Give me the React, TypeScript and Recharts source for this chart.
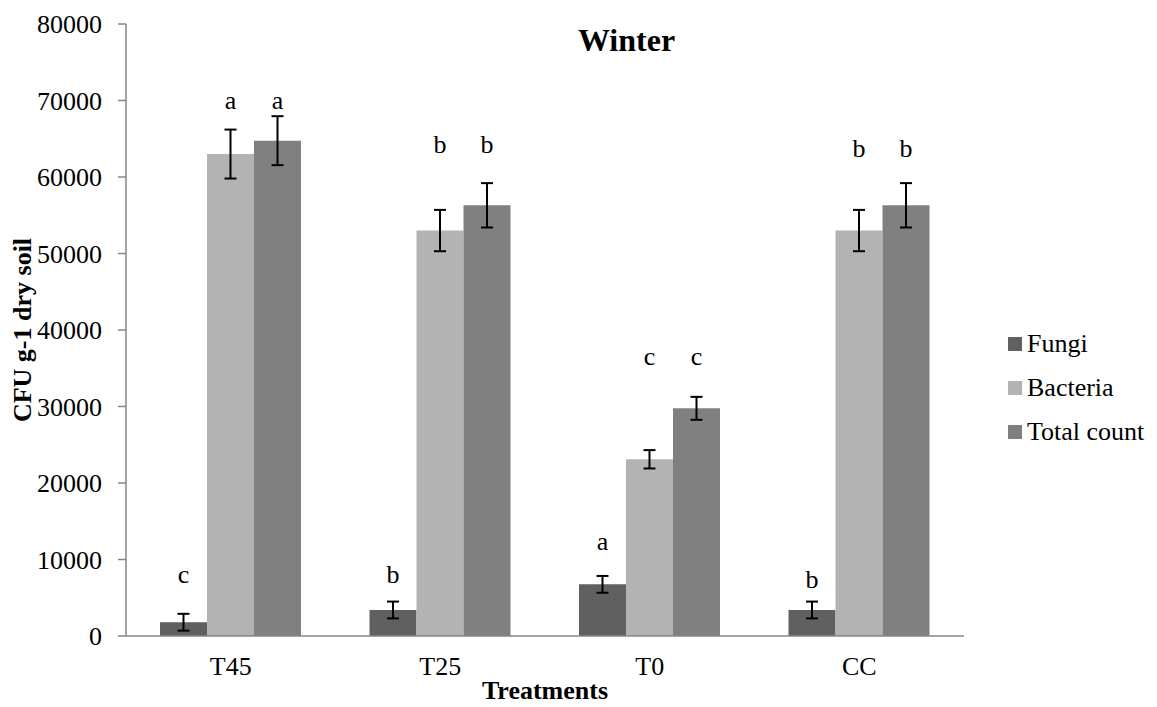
import React from "react";
import { BarChart, Bar, XAxis, YAxis, ErrorBar, LabelList } from "recharts";

const categories = ["T45", "T25", "T0", "CC"];
const seriesNames = ["Fungi", "Bacteria", "Total count"];
const seriesColors = ["#606060", "#b3b3b3", "#808080"];

const fungi = [1800, 3400, 6750, 3400];
const bacteria = [63000, 53000, 23100, 53000];
const totalCount = [64750, 56300, 29760, 56300];

const fungiErr = [1100, 1100, 1100, 1100];
const bacteriaErr = [3200, 2700, 1200, 2700];
const totalErr = [3200, 2900, 1500, 2900];

const fungiLetters = ["c", "b", "a", "b"];
const bacteriaLetters = ["a", "b", "c", "b"];
const totalLetters = ["a", "b", "c", "b"];

// value level (data units) where each significance letter sits
const fungiLetterLevel = [8000, 8000, 12400, 7450];
const bacteriaLetterLevel = [70000, 64200, 36600, 63700];
const totalLetterLevel = [70000, 64200, 36600, 63700];

const yTicks = [0, 10000, 20000, 30000, 40000, 50000, 60000, 70000, 80000];
const edgeTicks = [0, 1, 2, 3, 4];

const data = categories.map((c, i) => ({
  name: c,
  fungi: fungi[i],
  bacteria: bacteria[i],
  total: totalCount[i],
  fungiErr: fungiErr[i],
  bacteriaErr: bacteriaErr[i],
  totalErr: totalErr[i],
  fungiL: fungiLetters[i],
  bacteriaL: bacteriaLetters[i],
  totalL: totalLetters[i],
}));

const FONT = "Liberation Serif, DejaVu Serif, serif";
const AXIS_COLOR = "#868686";

const makeLetter = (levels: number[], values: number[]) => (props: any) => {
  const { x, y, width, height, value, index } = props;
  const v = values[index];
  const pxPerUnit = height / v;
  const baseY = y + height;
  const ly = baseY - levels[index] * pxPerUnit;
  return (
    <text
      x={x + width / 2}
      y={ly}
      textAnchor="middle"
      dominantBaseline="central"
      style={{ fontFamily: FONT, fontSize: 26 }}
      fill="#000"
    >
      {value}
    </text>
  );
};

export default function App() {
  return (
    <div style={{ position: "absolute", left: 0, top: 0, width: 1157, height: 707, background: "#fff", fontFamily: FONT }}>
      <BarChart
        width={1157}
        height={707}
        data={data}
        margin={{ top: 24, right: 193, bottom: 0, left: 36 }}
        barGap={0}
        style={{ fontFamily: FONT }}
      >
        <XAxis
          xAxisId="edges"
          type="number"
          domain={[0, 4]}
          ticks={edgeTicks}
          tick={false}
          axisLine={false}
          tickLine={{ stroke: AXIS_COLOR, strokeWidth: 1.5 }}
          tickSize={8}
          height={0}
          allowDataOverflow
        />
        <XAxis
          dataKey="name"
          height={71}
          tickSize={0}
          tickMargin={21}
          axisLine={{ stroke: AXIS_COLOR, strokeWidth: 1.5 }}
          tickLine={false}
          tick={{ fontSize: 26, fill: "#000", style: { fontFamily: FONT } }}
          label={(p: any) => {
            const vb = p.viewBox;
            return (
              <text
                x={vb.x + vb.width / 2}
                y={vb.y + 54}
                textAnchor="middle"
                dominantBaseline="central"
                style={{ fontFamily: FONT, fontSize: 26, fontWeight: "bold" }}
                fill="#000"
              >
                Treatments
              </text>
            );
          }}
        />
        <YAxis
          width={90}
          domain={[0, 80000]}
          ticks={yTicks}
          interval={0}
          tickSize={8}
          tickMargin={16}
          axisLine={{ stroke: AXIS_COLOR, strokeWidth: 1.5 }}
          tickLine={{ stroke: AXIS_COLOR, strokeWidth: 1.5 }}
          tick={{ fontSize: 26, fill: "#000", style: { fontFamily: FONT } }}
          label={(p: any) => {
            const vb = p.viewBox;
            const cy = vb.y + vb.height / 2;
            return (
              <text
                x={22}
                y={cy}
                transform={`rotate(-90, 22, ${cy})`}
                textAnchor="middle"
                dominantBaseline="central"
                style={{ fontFamily: FONT, fontSize: 26, fontWeight: "bold" }}
                fill="#000"
              >
                CFU g-1 dry soil
              </text>
            );
          }}
        />
        <Bar dataKey="fungi" name={seriesNames[0]} fill={seriesColors[0]} barSize={47} isAnimationActive={false}>
          <ErrorBar dataKey="fungiErr" width={6} stroke="#000" strokeWidth={2} direction="y" />
          <LabelList dataKey="fungiL" content={makeLetter(fungiLetterLevel, fungi)} />
        </Bar>
        <Bar dataKey="bacteria" name={seriesNames[1]} fill={seriesColors[1]} barSize={47} isAnimationActive={false}>
          <ErrorBar dataKey="bacteriaErr" width={6} stroke="#000" strokeWidth={2} direction="y" />
          <LabelList dataKey="bacteriaL" content={makeLetter(bacteriaLetterLevel, bacteria)} />
        </Bar>
        <Bar dataKey="total" name={seriesNames[2]} fill={seriesColors[2]} barSize={47} isAnimationActive={false}>
          <ErrorBar dataKey="totalErr" width={6} stroke="#000" strokeWidth={2} direction="y" />
          <LabelList dataKey="totalL" content={makeLetter(totalLetterLevel, totalCount)} />
        </Bar>
      </BarChart>
      <div
        style={{
          position: "absolute",
          left: 0,
          width: 1253,
          top: 22,
          textAlign: "center",
          fontFamily: FONT,
          fontSize: 32,
          fontWeight: "bold",
          lineHeight: "36px",
        }}
      >
        Winter
      </div>
      <div style={{ position: "absolute", left: 1008, top: 322 }}>
        {seriesNames.map((n, i) => (
          <div key={n} style={{ display: "flex", alignItems: "center", height: 44 }}>
            <div style={{ width: 14, height: 14, background: seriesColors[i], marginRight: 5 }} />
            <span style={{ fontFamily: FONT, fontSize: 26, lineHeight: "30px" }}>{n}</span>
          </div>
        ))}
      </div>
    </div>
  );
}
